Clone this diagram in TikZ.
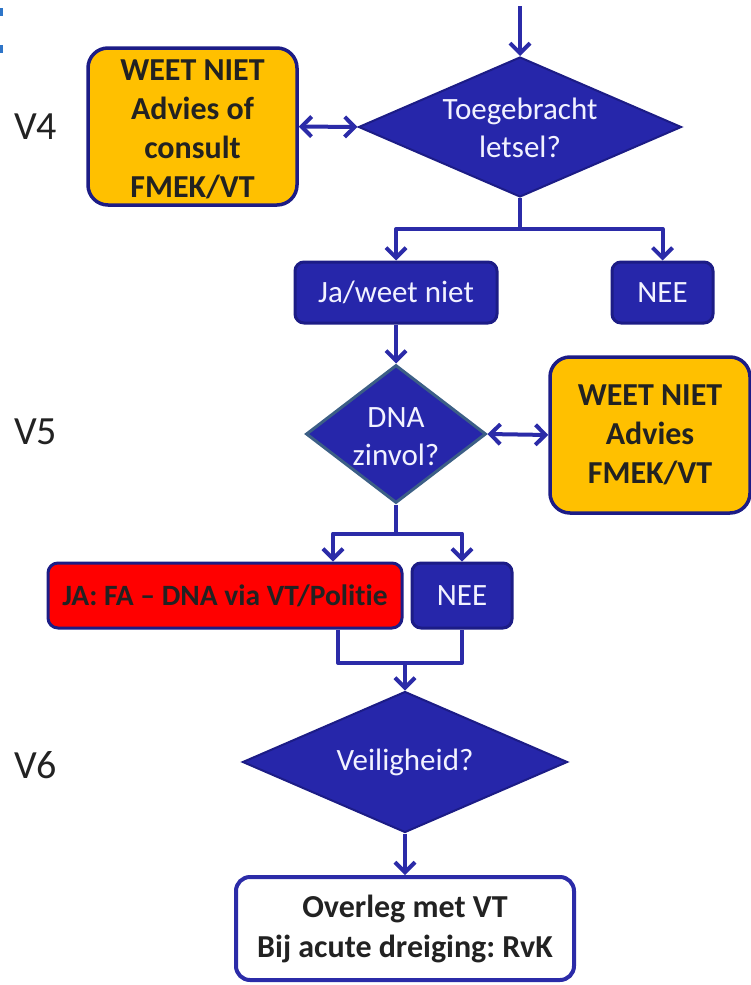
\documentclass[tikz,border=0pt]{standalone}
\usepackage{fontspec}
\setmainfont{Carlito}[Ligatures={NoCommon}]
\frenchspacing
\usetikzlibrary{shapes.geometric,arrows.meta}
\definecolor{bfill}{HTML}{2626AA}
\definecolor{bline}{HTML}{2B2BA8}
\definecolor{navy}{HTML}{1C1C86}
\definecolor{orng}{HTML}{FFC000}
\definecolor{slate}{HTML}{3C5F86}
\definecolor{txt}{HTML}{222222}
\definecolor{wtxt}{HTML}{F2F2FF}
\definecolor{markc}{HTML}{2E75C8}
\definecolor{redf}{HTML}{FF0000}
\begin{document}
\begin{tikzpicture}[x=1pt,y=-1pt,
  conn/.style={draw=bline,line width=4pt,line join=round},
  arr/.style={conn,-{Straight Barb[length=10pt,width=20pt]}},
  darr/.style={conn,{Straight Barb[length=10pt,width=20pt]}-{Straight Barb[length=10pt,width=20pt]}},
  dec/.style={diamond,fill=bfill,draw=navy,line width=2pt,inner sep=0pt},
  dtext/.style={text=wtxt,align=center,inner sep=0pt,font=\fontsize{31}{38}\selectfont},
  bbox/.style={rectangle,rounded corners=9pt,fill=bfill,draw=navy,line width=3pt,inner sep=0pt,text=wtxt,font=\fontsize{31}{38}\selectfont},
  obox/.style={rectangle,rounded corners=20pt,fill=orng,draw=navy,line width=3.5pt,inner sep=0pt,text=txt,align=center,font=\bfseries\fontsize{32}{39}\selectfont},
  rbox/.style={rectangle,rounded corners=10pt,fill=redf,draw=navy,line width=3pt,inner sep=0pt,text=txt,font=\bfseries\fontsize{29.5}{36}\selectfont},
  wbox/.style={rectangle,rounded corners=14pt,fill=white,draw=bline,line width=4pt,inner sep=0pt,text=txt,align=center,font=\bfseries\fontsize{32}{40}\selectfont},
  lbl/.style={text=txt,inner sep=0pt,font=\fontsize{40}{48}\selectfont}
]
\useasboundingbox (0,0) rectangle (751,985);
\fill[markc] (0,8) rectangle (2.5,16);
\fill[markc] (0,45) rectangle (2.5,53);

% labels
\node[lbl] (v4) at (35.5,127) {V4};
\node[lbl] (v5) at (35.5,432) {V5};
\node[lbl] (v6) at (35.5,765) {V6};

% shapes
\node[dec,minimum width=323pt,minimum height=140pt] (d1) at (520,127) {};
\node[dtext] (d1t) at ([yshift=-1pt]d1.center) {Toegebracht\\letsel?};
\node[obox,minimum width=209pt,minimum height=157pt] (o1) at (192.5,126.5) {};
\node[obox,draw=none,fill=none] (o1t) at (192.5,129) {WEET NIET\\Advies of\\consult\\FMEK/VT};
\node[bbox,minimum width=202pt,minimum height=61pt] (ja) at (396,292.5) {Ja/weet niet};
\node[bbox,minimum width=101pt,minimum height=61pt] (nee1) at (662.5,292.5) {NEE};
\node[dec,draw=slate,line width=3pt,minimum width=180pt,minimum height=138pt] (d2) at (396,434) {};
\node[dtext] (d2t) at ([yshift=-3pt]d2.center) {DNA\\zinvol?};
\node[obox,minimum width=200pt,minimum height=156pt] (o2) at (650,435) {WEET NIET\\Advies\\FMEK/VT};
\node[rbox,minimum width=354pt,minimum height=65pt] (red) at (225,595.5) {JA: FA – DNA via VT/Politie};
\node[bbox,minimum width=100pt,minimum height=65pt] (nee2) at (462,595.5) {NEE};
\node[dec,minimum width=325pt,minimum height=141pt] (d3) at (405,762) {};
\node[dtext] (d3t) at (d3) {Veiligheid?};
\node[wbox,minimum width=338pt,minimum height=103pt] (w) at (405,928.5) {Overleg met VT\\Bij acute dreiging: RvK};

% connectors
\coordinate (start) at (520,6);
\draw[arr] (start) -- (d1.north);
\draw[darr] (o1.east) -- (d1.west);
\draw[conn] (d1.south) -- ++(0,31) coordinate (s1);
\draw[arr] (s1) -| (ja.north);
\draw[arr] (s1) -| (nee1.north);
\draw[arr] (ja.south) -- (d2.north);
\draw[darr] (d2.east) -- (o2.west);
\draw[conn] (d2.south) -- ++(0,29) coordinate (s2);
\draw[arr] (s2) -| ([xshift=108pt]red.north);
\draw[arr] (s2) -| (nee2.north);
\coordinate (m) at (405,663);
\draw[conn] ([xshift=113pt]red.south) |- (m) -| (nee2.south);
\draw[arr] (m) -- (d3.north);
\draw[arr] (d3.south) -- (w.north);
\end{tikzpicture}
\end{document}
